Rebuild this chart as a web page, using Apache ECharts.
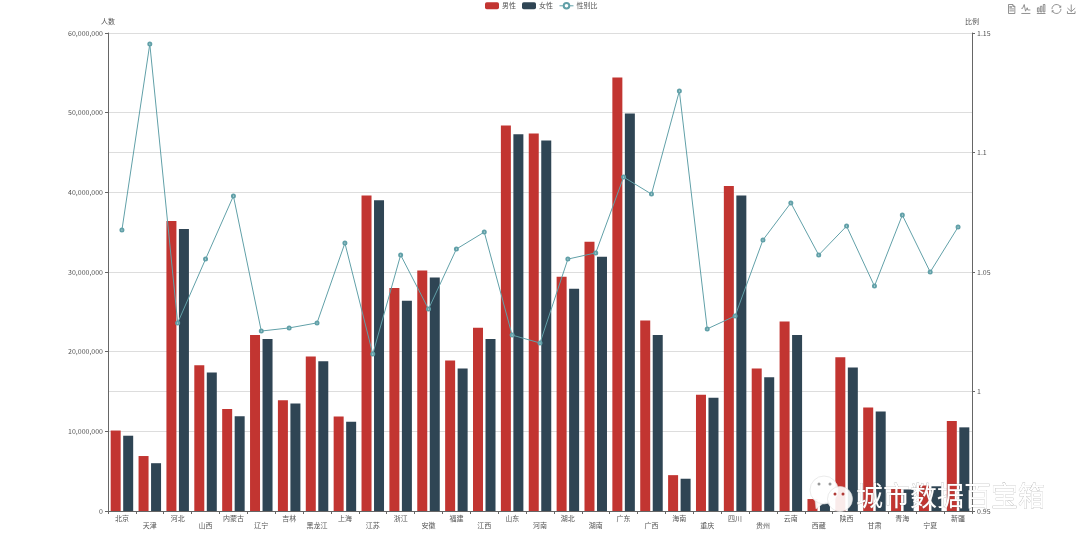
<!DOCTYPE html>
<html><head><meta charset="utf-8">
<style>html,body{margin:0;padding:0;background:#fff}#c{width:1080px;height:544px}</style>
<script src="https://cdn.jsdelivr.net/npm/echarts@6/dist/echarts.min.js"></script>
</head><body><div id="c"></div>
<script>
const categories = ['北京','天津','河北','山西','内蒙古','辽宁','吉林','黑龙江','上海','江苏','浙江','安徽','福建','江西','山东','河南','湖北','湖南','广东','广西','海南','重庆','四川','贵州','云南','西藏','陕西','甘肃','青海','宁夏','新疆'];
const male = [10100000,6900000,36400000,18300000,12800000,22100000,13900000,19400000,11850000,39600000,28000000,30200000,18900000,23000000,48400000,47400000,29400000,33800000,54400000,23900000,4500000,14600000,40800000,17900000,23800000,1500000,19300000,13000000,2900000,3200000,11300000];
const female = [9450000,6000000,35400000,17400000,11900000,21600000,13500000,18800000,11200000,39000000,26400000,29300000,17900000,21600000,47300000,46500000,27900000,31900000,49900000,22100000,4050000,14200000,39600000,16800000,22100000,1100000,18000000,12500000,2700000,3100000,10500000];
const ratio = [1.0676,1.1454,1.0287,1.0554,1.0818,1.0253,1.0266,1.0287,1.0621,1.0157,1.0571,1.0345,1.0596,1.0667,1.0236,1.0203,1.0554,1.058,1.0897,1.0826,1.1257,1.0262,1.0316,1.0634,1.0789,1.0571,1.0692,1.0441,1.0738,1.05,1.0688];
const FONT = '"Noto Sans CJK SC","Noto Sans",sans-serif';
const TXT = '#555';
const chart = echarts.init(document.getElementById('c'));
const axisCommon = {
  nameGap: 8,
  nameTextStyle: {color:TXT, fontSize:7, fontFamily:FONT},
  axisLine: {show:true, lineStyle:{color:'#666', width:1}},
  axisTick: {show:true, length:3, lineStyle:{color:'#666'}},
  axisLabel: {color:TXT, fontSize:7, margin:5, fontFamily:FONT},
  splitLine: {show:true, lineStyle:{color:'#ddd', width:1}}
};
chart.setOption({
  animation:false,
  color:['#c23531','#2f4554','#61a0a8'],
  textStyle:{fontFamily:FONT},
  legend:{
    top:2, left:485, padding:0, itemWidth:14, itemHeight:7, itemGap:6,
    textStyle:{fontSize:7, color:TXT, fontFamily:FONT, padding:[0,0,0,-2]},
    data:['男性','女性',{name:'性别比', lineStyle:{width:1}, itemStyle:{borderWidth:1}}]
  },
  toolbox:{
    show:true, left:1006, top:2, padding:0, itemSize:9, itemGap:1.5,
    iconStyle:{borderColor:'#777', borderWidth:0.8},
    feature:{dataView:{},magicType:{type:['line','bar']},restore:{},saveAsImage:{}}
  },
  grid:{left:108, right:108, top:33, bottom:33},
  xAxis:{
    type:'category', data:categories,
    axisLine:{lineStyle:{color:'#666'}},
    axisTick:{show:true, length:3, lineStyle:{color:'#666'}},
    axisLabel:{
      interval:0, color:TXT, fontSize:7, margin:4, lineHeight:7, fontFamily:FONT,
      formatter:(v,i)=> i%2 ? '\n'+v : v
    }
  },
  yAxis:[
    Object.assign({}, axisCommon, {type:'value', name:'人数', min:0, max:60000000, interval:10000000,
      axisLabel:Object.assign({}, axisCommon.axisLabel, {formatter:v=>v.toLocaleString('en-US')})}),
    Object.assign({}, axisCommon, {type:'value', name:'比例', min:0.95, max:1.15, interval:0.05,
      axisLabel:Object.assign({}, axisCommon.axisLabel, {formatter:v=>String(+v.toFixed(2))})})
  ],
  series:[
    {name:'男性', type:'bar', data:male, barWidth:10, barGap:'25%'},
    {name:'女性', type:'bar', data:female, barWidth:10, barGap:'25%'},
    {name:'性别比', type:'line', yAxisIndex:1, data:ratio, symbol:'emptyCircle', symbolSize:3, z:5,
      lineStyle:{width:1, color:'#61a0a8'}, itemStyle:{color:'#61a0a8', borderWidth:0.7}}
  ],
  graphic:[
    {type:'polygon', z:100, silent:true, shape:{points:[[815,500],[816,509],[825,502]]}, style:{fill:'rgba(255,255,255,0.92)', stroke:'#ddd', lineWidth:0.5}},
    {type:'circle', z:100, silent:true, shape:{cx:824,cy:490,r:14}, style:{fill:'rgba(255,255,255,0.95)', stroke:'#ddd', lineWidth:0.6}},
    {type:'circle', z:101, silent:true, shape:{cx:819,cy:484,r:1.5}, style:{fill:'#999'}},
    {type:'circle', z:101, silent:true, shape:{cx:830,cy:484,r:1.5}, style:{fill:'#999'}},
    {type:'circle', z:102, silent:true, shape:{cx:840,cy:499,r:12.5}, style:{fill:'rgba(255,255,255,0.9)', stroke:'#ddd', lineWidth:0.6}},
    {type:'circle', z:103, silent:true, shape:{cx:835,cy:494,r:1.5}, style:{fill:'#b03a36'}},
    {type:'circle', z:103, silent:true, shape:{cx:843,cy:494,r:1.5}, style:{fill:'#b03a36'}},
    {type:'text', z:104, silent:true, style:{x:856, y:482, text:'城市数据百宝箱', fill:'#fff', stroke:'rgba(110,110,110,0.6)', lineWidth:0.5,
      font:'27px "Noto Sans CJK SC"'}}
  ]
});
</script></body></html>
